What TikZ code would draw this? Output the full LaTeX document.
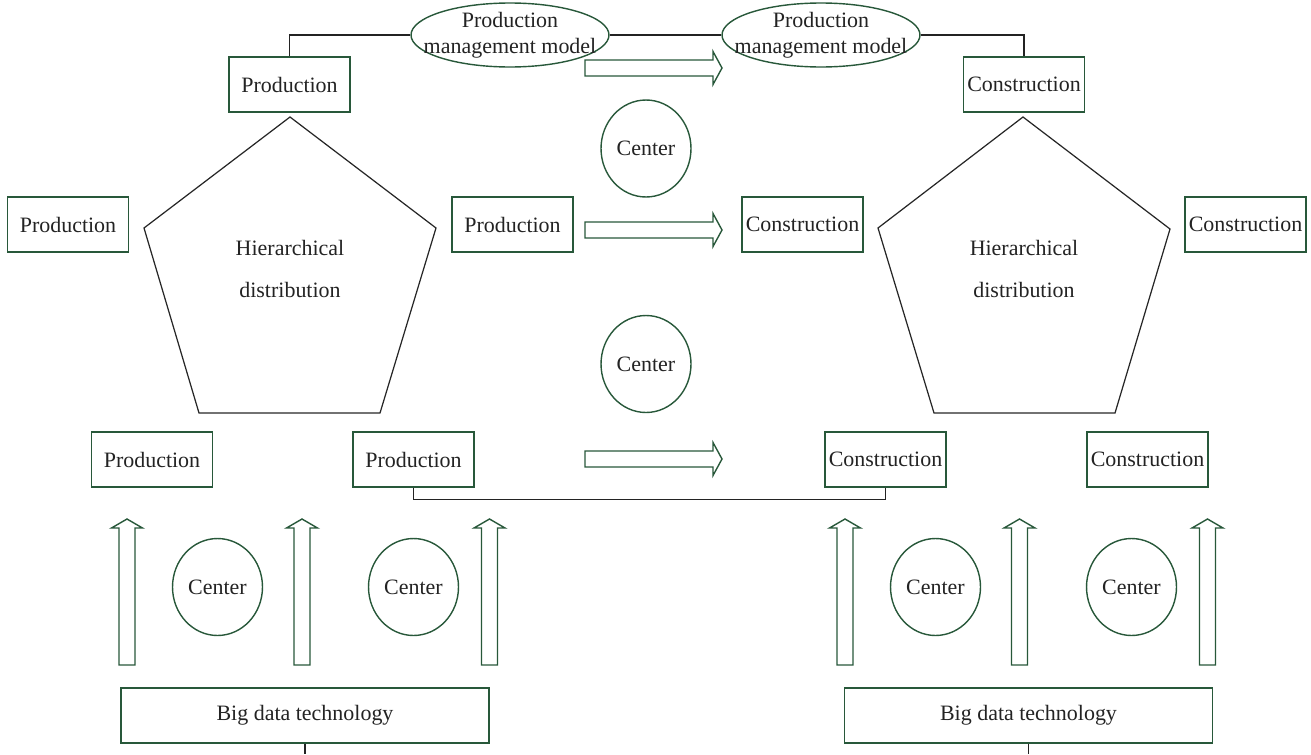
\documentclass[tikz,border=0pt]{standalone}
\usepackage{fontspec}
\setmainfont{Liberation Serif}
\usetikzlibrary{shapes.geometric}

\definecolor{boxgreen}{RGB}{40,88,58}
\definecolor{txtgray}{RGB}{35,35,35}
\newcommand{\diagfont}{\fontsize{12.5}{15}\selectfont}

\tikzset{
  box/.style={draw=boxgreen, line width=0.8pt, minimum width=2.42cm, minimum height=1.1cm,
    inner sep=0pt, font=\diagfont, text=txtgray},
  bigbox/.style={box, minimum width=7.36cm},
  centre/.style={draw=boxgreen, line width=0.8pt, ellipse, minimum width=1.8cm,
    minimum height=1.94cm, inner sep=0pt, font=\diagfont, text=txtgray},
  model/.style={draw=boxgreen, line width=0.8pt, ellipse, minimum width=3.96cm,
    minimum height=1.28cm, inner sep=0pt},
  label/.style={font=\diagfont, text=txtgray, align=center},
  link/.style={draw=txtgray, line width=0.7pt},
  pent/.style={draw=black!85, line width=0.7pt, line join=miter},
  blockarrow/.style={draw=boxgreen, line width=0.8pt, line join=miter}
}

\begin{document}
\begin{tikzpicture}[x=0.02cm,y=-0.02cm]
    \newcommand{\blockUp}[1]{
        \draw[blockarrow] (#1-8,665) -- (#1-8,528) -- (#1-15.5,528) -- (#1,519)
          -- (#1+15.5,528) -- (#1+8,528) -- (#1+8,665) -- cycle;
    }
    \newcommand{\blockRight}[1]{
        \draw[blockarrow] (585,#1-8) -- (713,#1-8) -- (713,#1-16.5) -- (722,#1)
          -- (713,#1+16.5) -- (713,#1+8) -- (585,#1+8) -- cycle;
    }
  \useasboundingbox (0,0) rectangle (1311,754);

  % top row
  \node[box] (prodTop) at (289.5,84.5) {Production};
  \node[box] (consTop) at (1024,84.5) {Construction};
  \node[model] (modelL) at (510,35) {};
  \node[label] (modelLtext) at (modelL) {Production\\management model};
  \node[model] (modelR) at (821,35) {};
  \node[label] (modelRtext) at (modelR) {Production\\management model};

  \draw[link] (prodTop.north) |- (modelL.west);
  \draw[link] (modelL.east) -- (modelR.west);
  \draw[link] (modelR.east) -| (consTop.north);

  % pentagons
  \draw[pent] (290,117) -- (436,228) -- (380,413) -- (199,413) -- (144,228) -- cycle;
  \node[label] (hierL) at (290,269) {Hierarchical\\[9pt]distribution};
  \draw[pent] (1023,117) -- (1170,229) -- (1115,413) -- (934,413) -- (878,228) -- cycle;
  \node[label] (hierR) at (1024,269) {Hierarchical\\[9pt]distribution};

  % middle row
  \node[box] (prodW) at (68,224.5) {Production};
  \node[box] (prodE) at (512.5,224.5) {Production};
  \node[box] (consW) at (802.5,224.5) {Construction};
  \node[box] (consE) at (1245.5,224.5) {Construction};

  \node[centre] (centreA) at (646,148.5) {Center};
  \node[centre] (centreB) at (646,364) {Center};

  % bottom row
  \node[box] (prodSW) at (152,459.5) {Production};
  \node[box] (prodSE) at (413.5,459.5) {Production};
  \node[box] (consSW) at (885.5,459.5) {Construction};
  \node[box] (consSE) at (1147.5,459.5) {Construction};

  \draw[link] (prodSE.south) -- ++(0,12) -| (consSW.south);

  \blockRight{68}
  \blockRight{230}
  \blockRight{459}

  \blockUp{127}
  \blockUp{302}
  \blockUp{489.5}
  \blockUp{845}
  \blockUp{1019.5}
  \blockUp{1207.5}

  \node[centre] (centreC) at (217.5,587) {Center};
  \node[centre] (centreD) at (413.5,587) {Center};
  \node[centre] (centreE) at (935.5,587) {Center};
  \node[centre] (centreF) at (1131.5,587) {Center};

  % big data
  \node[bigbox] (bigL) at (305,715.5) {Big data technology};
  \node[bigbox] (bigR) at (1028.5,715.5) {Big data technology};
  \coordinate (endL) at (305,754);
  \coordinate (endR) at (1028.5,754);
  \draw[link] (bigL.south) -- (endL);
  \draw[link] (bigR.south) -- (endR);

\end{tikzpicture}
\end{document}
